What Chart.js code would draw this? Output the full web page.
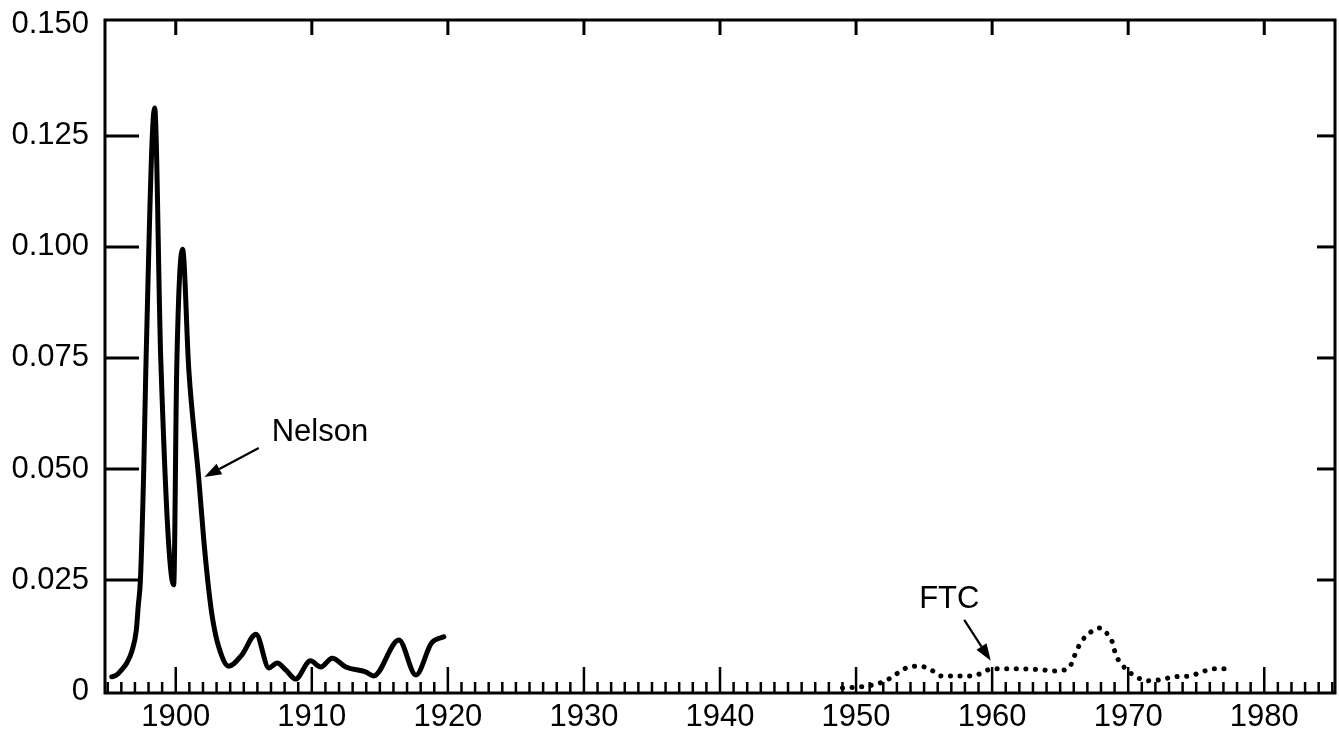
<!DOCTYPE html>
<html>
<head>
<meta charset="utf-8">
<script src="https://cdn.jsdelivr.net/npm/chart.js@4"></script>
<style>
html,body{margin:0;padding:0;background:#fff;}
#wrap{width:1339px;height:740px;position:relative;}
</style>
</head>
<body>
<div id="wrap"><canvas id="c" width="1339" height="740"></canvas></div>
<script>
// ---- data ----
const nelsonYears = [1895.3,1895.65,1896.0,1896.4,1896.8,1897.1,1897.25,1897.4,1897.65,1897.8,1898.45,1898.9,1899.85,1900.07,1900.5,1900.96,1901.7,1902.06,1902.43,1902.72,1903.16,1903.9,1904.85,1905.9,1906.85,1907.45,1908.1,1908.8,1909.9,1910.65,1911.5,1912.5,1913.95,1914.55,1916.4,1917.65,1918.8,1919.7];
const nelsonValues = [0.0032,0.0036,0.0047,0.0063,0.0092,0.0137,0.0194,0.0248,0.0502,0.0723,0.1313,0.0745,0.0239,0.0723,0.0995,0.0723,0.0475,0.0340,0.0227,0.0160,0.0099,0.0056,0.0081,0.0128,0.0052,0.0063,0.0047,0.0027,0.0068,0.0054,0.0074,0.0054,0.0043,0.0034,0.0115,0.0036,0.0108,0.0122];
const ftcYears = [1949.0,1950.2,1951.3,1952.3,1952.95,1953.55,1954.25,1955.05,1955.65,1956.25,1957.55,1958.45,1959.05,1960.0,1962.1,1963.9,1964.5,1965.15,1965.65,1966.2,1966.6,1967.35,1967.95,1968.4,1968.8,1969.1,1969.55,1970.15,1970.9,1971.55,1972.3,1973.4,1974.5,1975.6,1976.2,1977.65];
const ftcValues = [0.0007,0.0009,0.0014,0.0025,0.0038,0.0050,0.0056,0.0054,0.0045,0.0034,0.0034,0.0034,0.0038,0.0050,0.0050,0.0047,0.0045,0.0047,0.0052,0.0090,0.0113,0.0135,0.0142,0.0131,0.0113,0.0081,0.0059,0.0041,0.0027,0.0023,0.0025,0.0032,0.0034,0.0045,0.0050,0.0050];
const xTickValues = [1900,1910,1920,1930,1940,1950,1960,1970,1980];
const xTickLabels = ["1900","1910","1920","1930","1940","1950","1960","1970","1980"];
const yTickValues = [0,0.025,0.05,0.075,0.1,0.125,0.15];
const yTickLabels = ["0","0.025","0.050","0.075","0.100","0.125","0.150"];
const labelNelson = "Nelson";
const labelFTC = "FTC";

const FONT = "'Liberation Sans', Arial, sans-serif";

const framePlugin = {
  id: 'frame',
  afterDraw(chart) {
    const {ctx, chartArea: a, scales: {x, y}} = chart;
    ctx.save();
    ctx.strokeStyle = '#000';
    ctx.lineCap = 'butt';
    ctx.lineWidth = 3;
    ctx.strokeRect(a.left, a.top, a.right - a.left, a.bottom - a.top);
    ctx.lineWidth = 3;
    yTickValues.forEach(v => {
      if (v <= 0 || v >= 0.15) return;
      const py = y.getPixelForValue(v);
      ctx.beginPath(); ctx.moveTo(a.left, py); ctx.lineTo(a.left + 34, py); ctx.stroke();
      ctx.beginPath(); ctx.moveTo(a.right, py); ctx.lineTo(a.right - 18, py); ctx.stroke();
    });
    xTickValues.forEach(v => {
      const px = x.getPixelForValue(v);
      ctx.beginPath(); ctx.moveTo(px, a.top); ctx.lineTo(px, a.top + 15); ctx.stroke();
    });
    ctx.lineWidth = 2.5;
    for (let yr = Math.ceil(x.min); yr <= Math.floor(x.max); yr++) {
      const px = x.getPixelForValue(yr);
      const h = (yr % 10 === 0) ? 26 : 11;
      ctx.beginPath(); ctx.moveTo(px, a.bottom); ctx.lineTo(px, a.bottom - h); ctx.stroke();
    }
    ctx.fillStyle = '#000';
    ctx.font = "31px " + FONT;
    ctx.textBaseline = 'middle';
    ctx.textAlign = 'left';
    ctx.fillText(labelNelson, x.getPixelForValue(1907.05), y.getPixelForValue(0.0583));
    ctx.textAlign = 'center';
    ctx.fillText(labelFTC, x.getPixelForValue(1956.85), y.getPixelForValue(0.0207));
    const arrow = (x1, y1, x2, y2) => {
      const p1 = [x.getPixelForValue(x1), y.getPixelForValue(y1)];
      const p2 = [x.getPixelForValue(x2), y.getPixelForValue(y2)];
      const ang = Math.atan2(p2[1] - p1[1], p2[0] - p1[0]);
      const L = 17, W = 6;
      const bx = p2[0] - L * Math.cos(ang), by = p2[1] - L * Math.sin(ang);
      ctx.lineWidth = 2.2;
      ctx.beginPath(); ctx.moveTo(p1[0], p1[1]); ctx.lineTo(bx, by); ctx.stroke();
      ctx.beginPath();
      ctx.moveTo(p2[0], p2[1]);
      ctx.lineTo(bx + W * Math.sin(ang), by - W * Math.cos(ang));
      ctx.lineTo(bx - W * Math.sin(ang), by + W * Math.cos(ang));
      ctx.closePath(); ctx.fill();
    };
    arrow(1906.1, 0.0547, 1902.1, 0.0482);
    arrow(1957.95, 0.0160, 1959.9, 0.0068);
    ctx.restore();
  }
};

new Chart(document.getElementById('c'), {
  type: 'line',
  data: {
    datasets: [
      {
        label: labelNelson,
        data: nelsonYears.map((v, i) => ({x: v, y: nelsonValues[i]})),
        borderColor: '#000',
        borderWidth: 5,
        pointRadius: 0,
        cubicInterpolationMode: 'monotone',
        borderCapStyle: 'round',
        borderJoinStyle: 'round',
        fill: false
      },
      {
        label: labelFTC,
        data: ftcYears.map((v, i) => ({x: v, y: ftcValues[i]})),
        borderColor: '#000',
        borderWidth: 5,
        borderDash: [0.1, 9.5],
        borderCapStyle: 'round',
        pointRadius: 0,
        cubicInterpolationMode: 'monotone',
        fill: false
      }
    ]
  },
  options: {
    responsive: false,
    animation: false,
    devicePixelRatio: 1,
    layout: {padding: {top: 20, right: 4, bottom: 0, left: 0}},
    plugins: {legend: {display: false}, tooltip: {enabled: false}},
    scales: {
      x: {
        type: 'linear',
        min: 1894.8,
        max: 1985.2,
        grid: {display: false, drawTicks: false},
        border: {display: false},
        afterBuildTicks: s => { s.ticks = xTickValues.map(v => ({value: v})); },
        afterFit: s => { s.height = 47; s.paddingLeft = 0; s.paddingRight = 0; },
        ticks: {
          padding: 6,
          color: '#000',
          font: {family: FONT, size: 31},
          maxRotation: 0,
          autoSkip: false,
          callback: v => { const i = xTickValues.indexOf(v); return i >= 0 ? xTickLabels[i] : ''; }
        }
      },
      y: {
        type: 'linear',
        min: -0.00045,
        max: 0.1511,
        grid: {display: false, drawTicks: false},
        border: {display: false},
        afterBuildTicks: s => { s.ticks = yTickValues.map(v => ({value: v})); },
        afterFit: s => { s.width = 105; s.paddingTop = 0; s.paddingBottom = 0; },
        ticks: {
          padding: 16,
          color: '#000',
          font: {family: FONT, size: 31},
          autoSkip: false,
          callback: v => { const i = yTickValues.indexOf(v); return i >= 0 ? yTickLabels[i] : ''; }
        }
      }
    }
  },
  plugins: [framePlugin]
});
</script>
</body>
</html>
